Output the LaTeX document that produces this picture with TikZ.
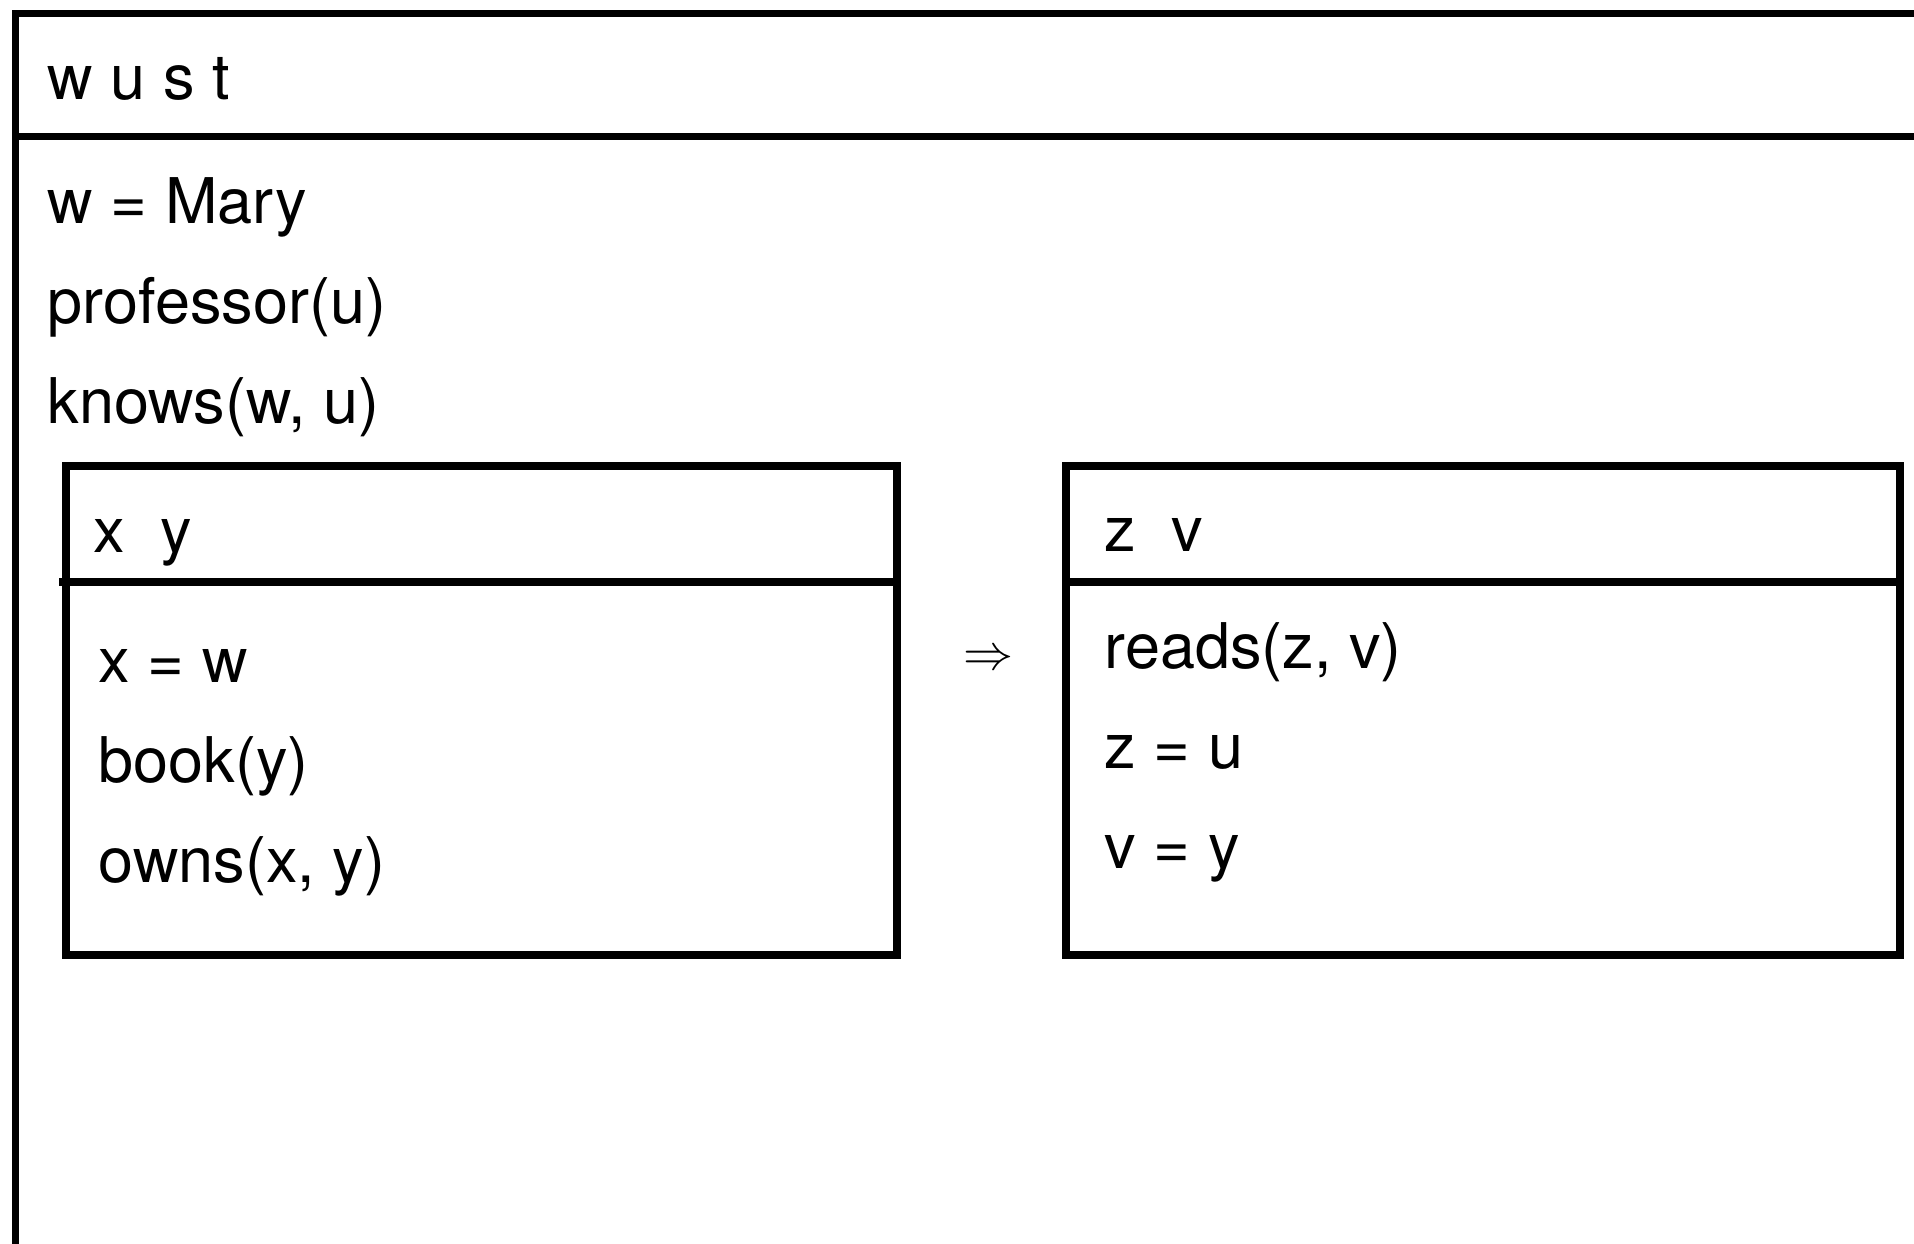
\documentclass[tikz,border=0pt]{standalone}
\usepackage{fontspec}
\setmainfont{TeX Gyre Heros}
\usetikzlibrary{positioning}

\begin{document}
\begin{tikzpicture}[x=1pt, y=-1pt, line width=7.5pt, line join=miter,
                fact/.style={anchor=base west, inner sep=0pt, font=\fontsize{63}{75}\selectfont},
                frame/.style={draw, rectangle, anchor=north west, inner sep=0pt, outer sep=0pt,
                  minimum width=834pt, minimum height=489pt}]

  \useasboundingbox (0,0) rectangle (1914,1243);
  \clip (0,0) rectangle (1914,1243);

  % outer box, cut off by the page
  \coordinate (outer nw) at (15.5,13.5);
  \draw (15.5,1300) -- (outer nw) -- (1960,13.5);
  \draw (15.5,136.5) -- (1960,136.5);

  \node[fact] (wust) at (44,99) {w u s t};
  \node[fact] (mary) at (44,223) {w = Mary};
  \node[fact] (prof) at ([yshift=-100pt]mary.base west) {professor(u)};
  \node[fact] (knows) at ([yshift=-100pt]prof.base west) {knows(w, u)};

  % left box
  \node[frame, minimum width=831pt] (lbox) at (66,466) {};
  \draw ([xshift=-7pt,yshift=-116pt]lbox.north west) -- ([yshift=-116pt]lbox.north east);
  \node[fact] (xy) at (90,552) {x\ \ y};
  \node[fact] (xw) at (95,682) {x = w};
  \node[fact] (book) at ([yshift=-100pt]xw.base west) {book(y)};
  \node[fact] (owns) at ([yshift=-100pt]book.base west) {owns(x, y)};

  \node[inner sep=0pt] (imp) at (988,660) {\scalebox{5}{$\Rightarrow$}};

  % right box
  \node[frame] (rbox) at (1066,466) {};
  \draw ([yshift=-116pt]rbox.north west) -- ([yshift=-116pt]rbox.north east);
  \node[fact] (zv) at (1101,551) {z\ \ v};
  \node[fact] (reads) at (1101,668) {reads(z, v)};
  \node[fact] (zu) at ([yshift=-100pt]reads.base west) {z = u};
  \node[fact] (vy) at ([yshift=-100pt]zu.base west) {v = y};
\end{tikzpicture}
\end{document}
